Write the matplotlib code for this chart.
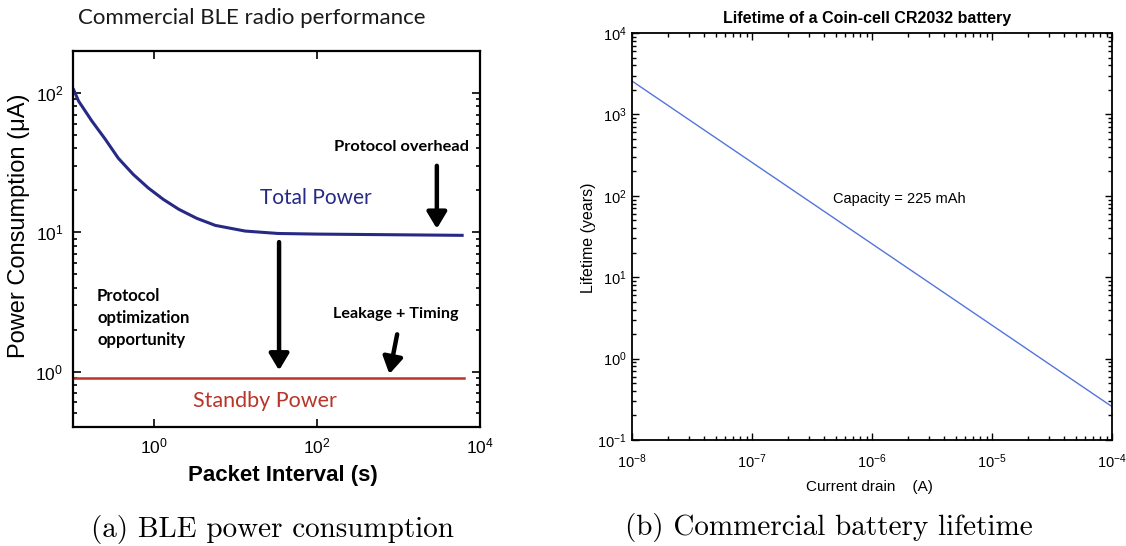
import matplotlib
matplotlib.use("Agg")
import matplotlib.pyplot as plt
from matplotlib.ticker import LogLocator, NullLocator, NullFormatter

# ---- data -------------------------------------------------------------
# (a) BLE radio: power consumption versus packet interval
interval_s = [0.1, 0.117, 0.17, 0.25, 0.36, 0.55, 0.84, 1.29, 2.0, 3.3,
              5.6, 13, 33, 100, 6300]
total_uA = [108, 87.5, 63, 46.4, 34, 26, 20.8, 17.2, 14.6, 12.6,
            11.2, 10.2, 9.8, 9.7, 9.5]
standby_interval_s = [0.1, 6300]
standby_uA = [0.9, 0.9]

# (b) CR2032 coin cell: lifetime versus current drain
drain_A = [1e-8, 1e-4]
lifetime_yr = [2570, 0.257]

# ---- style ------------------------------------------------------------
plt.rcParams["mathtext.fontset"] = "custom"
plt.rcParams["mathtext.rm"] = "Liberation Sans"
plt.rcParams["mathtext.it"] = "Liberation Sans:italic"
plt.rcParams["mathtext.bf"] = "Liberation Sans:bold"
plt.rcParams["font.family"] = ["Liberation Sans", "DejaVu Sans"]

W, H = 1126, 546
fig = plt.figure(figsize=(W / 100, H / 100), dpi=100)


def fx(px):
    return px / W


def fy(py):
    return 1 - py / H


def box(x0, y0, x1, y1):
    return [fx(x0), fy(y1), fx(x1) - fx(x0), fy(y0) - fy(y1)]


SANS_H = ["Lato", "Open Sans", "DejaVu Sans"]
NAVY = "#262a85"
BRICK = "#b8352a"

# ---- (a) BLE power consumption ----------------------------------------
axa = fig.add_axes(box(73, 51, 480, 427))
axa.plot(interval_s, total_uA, color=NAVY, lw=2.2, solid_capstyle="butt")
axa.plot(standby_interval_s, standby_uA, color=BRICK, lw=1.8)
axa.set_xscale("log")
axa.set_yscale("log")
axa.set_xlim(0.1, 1e4)
axa.set_ylim(0.4, 200)
axa.set_xticks([1, 100, 1e4])
axa.xaxis.set_minor_locator(NullLocator())
axa.set_yticks([1, 10, 100])
axa.yaxis.set_minor_locator(LogLocator(base=10, subs=range(2, 10)))
axa.yaxis.set_minor_formatter(NullFormatter())
axa.tick_params(which="both", direction="in", top=True, right=True,
                labelsize=12.5, width=1.2)
axa.tick_params(which="major", length=6, pad=7)
axa.tick_params(which="minor", length=3)
for s in axa.spines.values():
    s.set_linewidth(1.6)

arrow = dict(arrowstyle="-|>,head_length=0.55,head_width=0.33", lw=3.2,
             color="black", shrinkA=0, shrinkB=0, mutation_scale=18)
axa.annotate("", xy=(34, 1.02), xytext=(34, 8.5), arrowprops=arrow)
axa.annotate("", xy=(2950, 10.6), xytext=(2950, 30), arrowprops=arrow)
axa.annotate("", xy=(770, 0.96), xytext=(960, 1.85), arrowprops=arrow)

fig.text(fx(252), fy(18), "Commercial BLE radio performance",
         family=SANS_H, fontsize=16, ha="center", va="center", color="#1a1a1a")
fig.text(fx(401), fy(147), "Protocol overhead", family=SANS_H,
         fontsize=11.8, weight="bold", ha="center", va="center")
fig.text(fx(316), fy(198), "Total Power", family=SANS_H, fontsize=15,
         color=NAVY, ha="center", va="center")
fig.text(fx(97), fy(318), "Protocol\noptimization\nopportunity",
         family=SANS_H, fontsize=12, weight="bold", ha="left", va="center",
         linespacing=1.45)
fig.text(fx(396), fy(314), "Leakage + Timing", family=SANS_H, fontsize=11.6,
         weight="bold", ha="center", va="center")
fig.text(fx(265), fy(401), "Standby Power", family=SANS_H, fontsize=15.5,
         color=BRICK, ha="center", va="center")

fig.text(fx(19), fy(226), "Power Consumption (\u03bcA)", rotation=90,
         fontsize=17, ha="center", va="center")
fig.text(fx(283), fy(476), "Packet Interval (s)", fontsize=16,
         weight="bold", ha="center", va="center")

# ---- (b) coin-cell lifetime -------------------------------------------
axb = fig.add_axes(box(632, 33, 1112, 440))
axb.plot(drain_A, lifetime_yr, color="#5475dc", lw=1.0)
axb.set_xscale("log")
axb.set_yscale("log")
axb.set_xlim(1e-8, 1e-4)
axb.set_ylim(0.1, 1e4)
for ax_ in (axb.xaxis, axb.yaxis):
    ax_.set_major_locator(LogLocator(base=10, numticks=10))
    ax_.set_minor_locator(LogLocator(base=10, subs=range(2, 10), numticks=50))
    ax_.set_minor_formatter(NullFormatter())
axb.tick_params(which="both", direction="in", top=True, right=True,
                labelsize=10.5, width=1.0)
axb.tick_params(which="major", length=5)
axb.tick_params(axis="x", which="major", pad=9)
axb.tick_params(axis="y", which="major", pad=4)
axb.tick_params(which="minor", length=3)
for s in axb.spines.values():
    s.set_linewidth(1.3)

fig.text(fx(867), fy(19), "Lifetime of a Coin-cell CR2032 battery",
         fontsize=11.5, weight="bold", ha="center", va="center")
fig.text(fx(833), fy(199), "Capacity = 225 mAh", fontsize=10.5,
         ha="left", va="center")
fig.text(fx(588), fy(238), "Lifetime (years)", rotation=90, fontsize=11.5,
         ha="center", va="center")
fig.text(fx(869), fy(487), "Current drain    (A)", fontsize=11,
         ha="center", va="center")

# ---- sub-figure captions ----------------------------------------------
fig.text(fx(272), fy(530), "(a) BLE power consumption", family="cmr10",
         fontsize=21, ha="center", va="center")
fig.text(fx(829), fy(527), "(b) Commercial battery lifetime",
         family="cmr10", fontsize=21, ha="center", va="center")

fig.savefig("out.png", dpi=100)
